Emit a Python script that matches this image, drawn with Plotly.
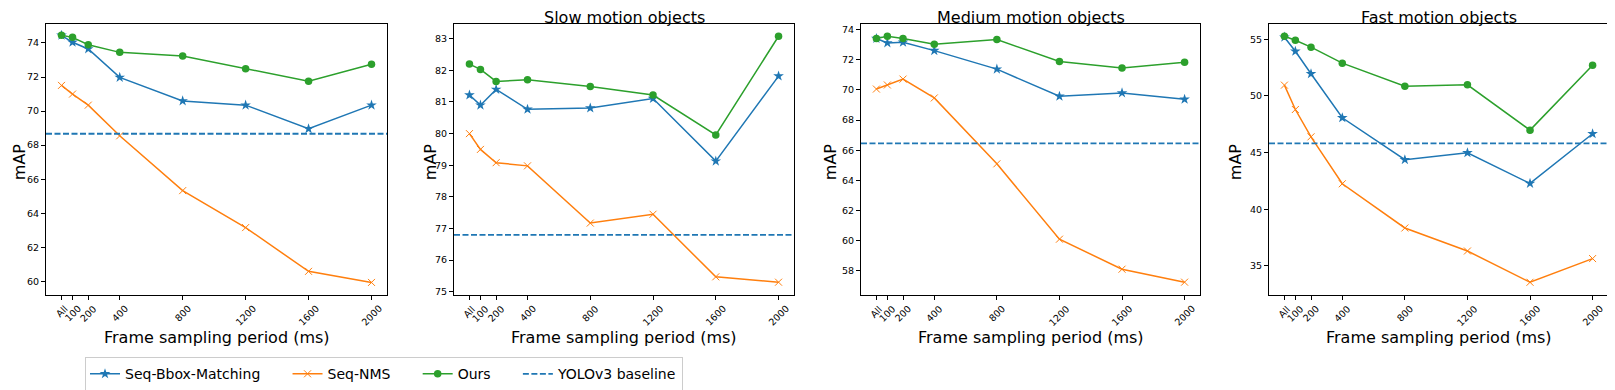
import plotly.graph_objects as go
from plotly.subplots import make_subplots

# x positions of the sampling periods ("All" = every frame)
periods = [30, 100, 200, 400, 800, 1200, 1600, 2000]
period_labels = ['All', '100', '200', '400', '800', '1200', '1600', '2000']

panel_titles = ['', 'Slow motion objects', 'Medium motion objects', 'Fast motion objects']

# all objects
bbox_all = [74.45, 74.04, 73.65, 71.98, 70.60, 70.35, 68.96, 70.35]
nms_all = [71.51, 71.00, 70.35, 68.55, 65.33, 63.16, 60.59, 59.94]
ours_all = [74.45, 74.33, 73.90, 73.45, 73.24, 72.49, 71.75, 72.75]
yolo_all = 68.67

# slow motion objects
bbox_slow = [81.22, 80.90, 81.40, 80.77, 80.81, 81.11, 79.13, 81.82]
nms_slow = [80.00, 79.50, 79.08, 78.98, 77.17, 77.45, 75.47, 75.30]
ours_slow = [82.20, 82.03, 81.65, 81.70, 81.49, 81.22, 79.96, 83.08]
yolo_slow = 76.80

# medium motion objects
bbox_medium = [73.41, 73.12, 73.16, 72.61, 71.38, 69.58, 69.80, 69.38]
nms_medium = [70.06, 70.33, 70.72, 69.47, 65.10, 60.10, 58.11, 57.25]
ours_medium = [73.41, 73.56, 73.41, 73.03, 73.34, 71.89, 71.45, 71.84]
yolo_medium = 66.45

# fast motion objects
bbox_fast = [55.18, 53.94, 51.95, 48.07, 44.37, 44.98, 42.28, 46.66]
nms_fast = [50.95, 48.80, 46.39, 42.25, 38.35, 36.32, 33.56, 35.65]
ours_fast = [55.26, 54.91, 54.30, 52.89, 50.86, 50.98, 46.98, 52.70]
yolo_fast = 45.81

panels = [
    (bbox_all, nms_all, ours_all, yolo_all),
    (bbox_slow, nms_slow, ours_slow, yolo_slow),
    (bbox_medium, nms_medium, ours_medium, yolo_medium),
    (bbox_fast, nms_fast, ours_fast, yolo_fast),
]

# layout helpers: positions are page pixels of the 1615x390 window;
# the html body has an 8px margin, so subtract it when converting to paper coords
W, H = 1615, 390
PAGE_OFFSET = 8


def px(x):
    return (x - PAGE_OFFSET) / W


def py(y):
    return 1 - (y - PAGE_OFFSET) / H


PLOT_TOP, PLOT_BOTTOM = 24, 296
x_domains = [(46, 387), (454, 794), (861, 1200), (1269, 1608)]
y_ranges = [(59.23, 75.12), (74.91, 83.47), (56.43, 74.38), (32.48, 56.35)]
y_ticks = [list(range(60, 75, 2)), list(range(75, 84)), list(range(58, 75, 2)), list(range(35, 56, 5))]
ylabel_x = [19, 430, 830, 1235]

BLUE = '#1f77b4'
ORANGE = '#ff7f0e'
GREEN = '#2ca02c'
TICK_FONT = dict(family='DejaVu Sans', size=9.5, color='black')
GAP = '\u00a0' * 5  # extra room between legend entries, like matplotlib's columnspacing

fig = make_subplots(rows=1, cols=4)

for i, (bbox, nms, ours, yolo) in enumerate(panels):
    col = i + 1
    first = i == 0
    xref = 'x' if col == 1 else f'x{col}'

    fig.add_trace(go.Scatter(
        x=periods, y=bbox, mode='lines+markers', name='Seq-Bbox-Matching' + GAP,
        legendgroup='bbox', showlegend=first,
        line=dict(color=BLUE, width=1.5),
        marker=dict(symbol='star', size=8, color=BLUE)
    ), row=1, col=col)
    fig.add_trace(go.Scatter(
        x=periods, y=nms, mode='lines+markers', name='Seq-NMS' + GAP,
        legendgroup='nms', showlegend=first,
        line=dict(color=ORANGE, width=1.5),
        marker=dict(symbol='x-thin-open', size=7, color=ORANGE, line=dict(color=ORANGE, width=1))
    ), row=1, col=col)
    fig.add_trace(go.Scatter(
        x=periods, y=ours, mode='lines+markers', name='Ours' + GAP,
        legendgroup='ours', showlegend=first,
        line=dict(color=GREEN, width=1.5),
        marker=dict(symbol='circle', size=7.5, color=GREEN)
    ), row=1, col=col)
    fig.add_hline(
        y=yolo, row=1, col=col,
        line=dict(color=BLUE, width=1.8, dash='6px,2.5px'),
        name='YOLOv3 baseline', showlegend=first, legendgroup='yolo'
    )

    x0, x1 = x_domains[i]
    fig.update_xaxes(
        domain=[px(x0), px(x1)], range=[-68.5, 2098.5],
        tickmode='array', tickvals=periods, showticklabels=False,
        ticks='outside', ticklen=4, tickcolor='black',
        showline=True, linecolor='black', linewidth=1, mirror=True,
        showgrid=False, zeroline=False,
        row=1, col=col
    )
    fig.update_yaxes(
        domain=[py(PLOT_BOTTOM), py(PLOT_TOP)], range=list(y_ranges[i]),
        tickmode='array', tickvals=y_ticks[i],
        tickfont=TICK_FONT, ticks='outside', ticklen=4, tickcolor='black',
        showline=True, linecolor='black', linewidth=1, mirror=True,
        showgrid=False, zeroline=False,
        row=1, col=col
    )

    # rotated x tick labels, centred under their ticks (matplotlib style)
    for p, lab in zip(periods, period_labels):
        fig.add_annotation(
            text=lab, textangle=-45, showarrow=False,
            xref=xref, yref='paper', x=p, y=py(PLOT_BOTTOM + 6),
            xanchor='center', yanchor='top', font=TICK_FONT
        )

    # axis titles
    fig.add_annotation(
        text='Frame sampling period (ms)', showarrow=False,
        xref='paper', yref='paper', x=px((x0 + x1) / 2), y=py(339),
        xanchor='center', yanchor='middle', font=dict(size=16, color='black')
    )
    fig.add_annotation(
        text='mAP', textangle=-90, showarrow=False,
        xref='paper', yref='paper', x=px(ylabel_x[i]), y=py(163),
        xanchor='center', yanchor='middle', font=dict(size=16, color='black')
    )
    # panel title
    if panel_titles[i]:
        fig.add_annotation(
            text=panel_titles[i], showarrow=False,
            xref='paper', yref='paper', x=px((x0 + x1) / 2), y=py(18),
            xanchor='center', yanchor='middle', font=dict(size=16, color='black')
        )

fig.update_layout(
    width=W, height=H,
    margin=dict(l=0, r=0, t=0, b=0),
    plot_bgcolor='white', paper_bgcolor='white',
    font=dict(family='DejaVu Sans', color='black'),
    legend=dict(
        orientation='h', x=px(85), y=py(359), xanchor='left', yanchor='top',
        font=dict(family='DejaVu Sans', size=14, color='black'),
        bordercolor='#cccccc', borderwidth=1, bgcolor='white',
        itemwidth=30
    ),
)

fig.write_html("out.html")
